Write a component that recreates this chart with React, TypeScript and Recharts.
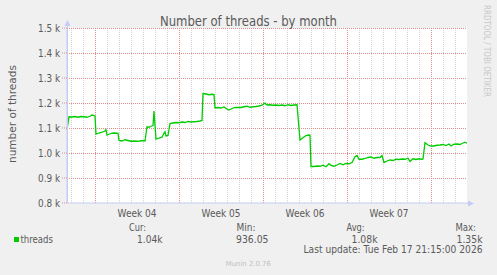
import { LineChart, Line, XAxis, YAxis, ReferenceLine, ReferenceArea } from 'recharts'

// hours since the left edge of the graph (each px = 2h), and thread counts
const hours = [
  0, 4, 10, 16, 22, 28, 34, 40, 46, 50, 54, 56, 58, 64, 70, 76, 78, 80, 84, 90, 96, 102,
  104, 110, 116, 122, 128, 134, 140, 146, 152, 156, 160, 164, 168, 172, 174, 178, 184, 190,
  194, 196, 198, 202, 206, 212, 218, 224, 230, 236, 242, 248, 254, 260, 266, 270, 272, 278,
  284, 290, 294, 296, 302, 308, 314, 320, 324, 330, 336, 342, 348, 354, 360, 366, 372, 378,
  384, 390, 396, 400, 406, 412, 418, 424, 430, 436, 442, 448, 454, 460, 466, 470, 474, 478,
  484, 486, 488, 494, 500, 506, 512, 518, 524, 528, 534, 540, 546, 552, 558, 564, 570, 576,
  580, 584, 590, 596, 602, 608, 614, 620, 626, 630, 634, 640, 646, 652, 658, 664, 670, 676,
  682, 686, 692, 698, 704, 710, 712, 716, 722, 728, 734, 740, 746, 752, 758, 764, 768, 774,
  780, 786, 792, 796, 800,
]
const threads = [
  1092, 1145, 1144, 1146, 1143, 1146, 1145, 1143, 1147, 1152, 1150, 1148, 1076, 1080, 1083, 1088, 1093, 1072, 1075, 1079, 1080, 1079,
  1050, 1048, 1053, 1050, 1047, 1048, 1047, 1048, 1050, 1048, 1105, 1103, 1107, 1110, 1168, 1056, 1060, 1063,
  1080, 1085, 1068, 1070, 1118, 1120, 1122, 1121, 1124, 1122, 1126, 1124, 1125, 1126, 1128, 1130, 1238, 1236,
  1233, 1235, 1234, 1180, 1182, 1180, 1184, 1176, 1172, 1178, 1182, 1182, 1182, 1185, 1187, 1183, 1185, 1186,
  1188, 1191, 1200, 1192, 1193, 1191, 1192, 1190, 1192, 1189, 1193, 1190, 1192, 1193, 1052, 1058, 1064, 1070,
  1072, 1071, 946, 946, 948, 947, 951, 945, 957, 950, 947, 952, 958, 953, 958, 957, 962, 985,
  990, 975, 975, 978, 982, 984, 979, 982, 982, 990, 962, 968, 972, 970, 975, 974, 976, 975,
  979, 966, 977, 974, 977, 975, 976, 1041, 1032, 1028, 1028, 1031, 1032, 1034, 1030, 1036, 1028, 1035,
  1036, 1034, 1040, 1043, 1039,
]

const weekLabels = ['Week 04', 'Week 05', 'Week 06', 'Week 07']
const weekMid = [140, 308, 476, 644]
const weekStart = [56, 224, 392, 560, 728]
const dayLines = [8, 32, 80, 104, 128, 152, 176, 200, 248, 272, 296, 320, 344, 368, 416, 440, 464, 488, 512, 536, 584, 608, 632, 656, 680, 704, 752, 776]
const yTicks = [800, 900, 1000, 1100, 1200, 1300, 1400, 1500]

const statNames = ['Cur:', 'Min:', 'Avg:', 'Max:']
const statValues = ['1.04k', '936.05', '1.08k', '1.35k']

const data = hours.map((h, i) => ({ h, v: threads[i] }))

const FONT = '"DejaVu Sans", sans-serif'
const TXT = '#5a5a5a'
const MGRID = '#e08c8c'
const GRID = '#d4d4d4'
const AXIS = '#c4ccf6'

if (typeof document !== 'undefined') document.body.style.margin = '0'

function T(p: { x: number; y: number; w: number; size?: number; anchor?: 'start' | 'middle' | 'end'; fill?: string; rotate?: number; children: string }) {
  const { x, y, w, size = 10, anchor = 'start', fill = TXT, rotate } = p
  return (
    <text
      x={x}
      y={y}
      fontSize={size}
      fontFamily={FONT}
      fill={fill}
      textAnchor={anchor}
      textLength={w}
      lengthAdjust="spacingAndGlyphs"
      transform={rotate ? `rotate(${rotate} ${x} ${y})` : undefined}
    >
      {p.children}
    </text>
  )
}

const YTick = (props: any) => (
  <T x={props.x} y={props.y + 3.5} w={22} anchor="end">
    {(props.payload.value / 1000).toFixed(1) + ' k'}
  </T>
)

const XTick = (props: any) => (
  <T x={props.x} y={props.y + 14.3} w={39} anchor="middle">
    {weekLabels[weekMid.indexOf(props.payload.value)] ?? ''}
  </T>
)

const statRight = [146, 255.5, 364.5, 476]
const valRight = [162.5, 268.5, 377.5, 482.5]
const statW = [17, 19, 18, 20.5]
const valW = [25.5, 32.5, 26, 26]

export default function App() {
  return (
    <div style={{ position: 'relative', width: 497, height: 275, background: '#f0f0f0' }}>
      <LineChart width={497} height={275} data={data} margin={{ top: 28, right: 30, bottom: 0, left: 0 }}>
        <XAxis
          dataKey="h"
          type="number"
          domain={[0, 800]}
          ticks={weekMid}
          tick={XTick}
          tickLine={false}
          tickSize={0}
          tickMargin={0}
          height={72}
          axisLine={{ stroke: AXIS }}
          interval={0}
        />
        <YAxis
          type="number"
          domain={[800, 1500]}
          ticks={yTicks}
          tick={YTick}
          tickSize={5}
          tickMargin={2}
          tickLine={{ stroke: MGRID, strokeDasharray: '1 1' }}
          width={67}
          axisLine={{ stroke: AXIS }}
          interval={0}
        />
        <ReferenceArea x1={0} x2={800} y1={800} y2={1500} fill="#ffffff" fillOpacity={1} stroke="none" />
        {dayLines.map((d) => (
          <ReferenceLine key={'d' + d} x={d} stroke={GRID} strokeDasharray="1 1" shapeRendering="crispEdges" />
        ))}
        {yTicks.slice(1).map((v) => (
          <ReferenceLine key={'y' + v} y={v} stroke={MGRID} strokeDasharray="1 1" shapeRendering="crispEdges" />
        ))}
        {weekStart.map((w) => (
          <ReferenceLine key={'w' + w} x={w} stroke={MGRID} strokeDasharray="1 1" shapeRendering="crispEdges" />
        ))}
        <Line dataKey="v" type="linear" stroke="#00cc00" strokeWidth={1.3} dot={false} isAnimationActive={false} />
      </LineChart>
      <svg width={497} height={275} style={{ position: 'absolute', left: 0, top: 0, pointerEvents: 'none' }}>
        <line x1={67.5} y1={203} x2={67.5} y2={25} stroke={AXIS} />
        <polygon points="64.5,26 70.5,26 67.5,20" fill={AXIS} />
        <line x1={467} y1={203.5} x2={469} y2={203.5} stroke={AXIS} />
        <polygon points="468,200.5 468,206.5 474,203.5" fill={AXIS} />
        <T x={248.5} y={26} w={177} size={13.5} anchor="middle">Number of threads - by month</T>
        <T x={15.5} y={114} w={98} size={11} anchor="middle" rotate={-90}>number of threads</T>
        <T x={483.5} y={5} w={92} size={8} fill="#c8c8c8" rotate={90}>RRDTOOL / TOBI OETIKER</T>
        {statNames.map((s, i) => (
          <T key={s} x={statRight[i]} y={230.5} w={statW[i]} anchor="end">{s}</T>
        ))}
        {statValues.map((s, i) => (
          <T key={s} x={valRight[i]} y={243.3} w={valW[i]} anchor="end">{s}</T>
        ))}
        <rect x={14} y={237} width={5} height={5} fill="#00cc00" />
        <T x={20.5} y={243} w={32.5}>threads</T>
        <T x={482.5} y={253} w={179} anchor="end">Last update: Tue Feb 17 21:15:00 2026</T>
        <T x={248.3} y={266} w={45} size={7} fill="#c0c0c0" anchor="middle">Munin 2.0.76</T>
      </svg>
    </div>
  )
}
